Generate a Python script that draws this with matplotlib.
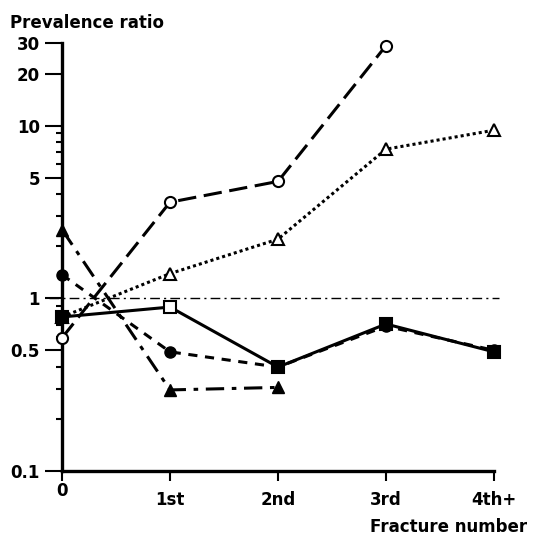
import matplotlib
matplotlib.use("Agg")
import matplotlib.pyplot as plt
from matplotlib.ticker import FixedLocator, NullFormatter
import matplotlib.transforms as mtransforms

plt.rcParams['font.family'] = ['DejaVu Sans']
plt.rcParams['font.weight'] = 'bold'

categories = ["0", "1st", "2nd", "3rd", "4th+"]

open_circle = [0.59, 3.6, 4.75, 29.0]
open_triangle = [0.78, 1.39, 2.2, 7.3, 9.4]
filled_circle = [1.37, 0.49, 0.40, 0.69, 0.50]
filled_triangle = [2.5, 0.295, 0.305]
square = [0.78, 0.89, 0.40, 0.71, 0.49]
square_filled = [True, False, True, True, True]

y_major = [0.1, 0.5, 1, 5, 10, 20, 30]
y_major_labels = ["0.1", "0.5", "1", "5", "10", "20", "30"]
y_minor = [0.2, 0.3, 0.4, 0.6, 0.7, 0.8, 0.9, 2, 3, 4, 6, 7, 8, 9]

fig = plt.figure(figsize=(5.39, 5.39), dpi=100)
ax = fig.add_axes([0.115, 0.126, 0.8015, 0.794])
ax.set_yscale('log')
ax.set_ylim(0.1, 30)
ax.set_xlim(0, len(categories) - 1)

lw = 2.2
ms = 8
fs = 12

# reference line at 1
ax.plot([-0.12, 4.05], [1, 1], color='black', lw=1.0, dashes=(7, 3, 1.5, 3),
        clip_on=False, zorder=1)

x = list(range(len(categories)))

ax.plot(x[:len(open_circle)], open_circle, color='black', lw=lw, dashes=(6, 2.5),
        marker='o', ms=ms, mfc='white', mec='black', mew=1.5, clip_on=False, zorder=3)
ax.plot(x[:len(open_triangle)], open_triangle, color='black', lw=lw, dashes=(1, 1),
        marker='^', ms=ms, mfc='white', mec='black', mew=1.5, clip_on=False, zorder=3)
ax.plot(x[:len(filled_circle)], filled_circle, color='black', lw=lw, dashes=(3, 2.5),
        marker='o', ms=ms, mfc='black', mec='black', clip_on=False, zorder=3)
ax.plot(x[:len(filled_triangle)], filled_triangle, color='black', lw=lw, dashes=(6, 2.5, 1.5, 2.5),
        marker='^', ms=ms, mfc='black', mec='black', clip_on=False, zorder=3)
ax.plot(x[:len(square)], square, color='black', lw=lw, solid_capstyle='butt', clip_on=False, zorder=4)
for xi, yi, f in zip(x, square, square_filled):
    ax.plot([xi], [yi], marker='s', ms=ms, mfc='black' if f else 'white', mec='black',
            mew=1.5, clip_on=False, zorder=5)

for s in ['top', 'right']:
    ax.spines[s].set_visible(False)
ax.spines['left'].set_linewidth(2.4)
ax.spines['bottom'].set_linewidth(2.4)

ax.yaxis.set_major_locator(FixedLocator(y_major))
ax.set_yticklabels(y_major_labels)
ax.yaxis.set_minor_locator(FixedLocator(y_minor))
ax.yaxis.set_minor_formatter(NullFormatter())
ax.tick_params(axis='y', which='major', direction='out', length=12, width=1.5,
               labelsize=fs, pad=4)
ax.tick_params(axis='y', which='minor', direction='out', length=4, width=1.5)

ax.set_xticks(x)
ax.set_xticklabels([""] + categories[1:])
ax.tick_params(axis='x', which='major', direction='out', length=7, width=1.5,
               labelsize=fs, pad=7)
ax.tick_params(axis='x', which='minor', bottom=False)
ax.text(0, -0.025, categories[0], transform=mtransforms.blended_transform_factory(ax.transData, ax.transAxes),
        ha='center', va='top', fontsize=fs, fontweight='bold')

fig.text(0.018, 0.957, "Prevalence ratio", fontsize=fs, fontweight='bold', ha='left', va='center')
fig.text(0.978, 0.022, "Fracture number", fontsize=fs, fontweight='bold', ha='right', va='center')

fig.savefig("out.png", dpi=100)
